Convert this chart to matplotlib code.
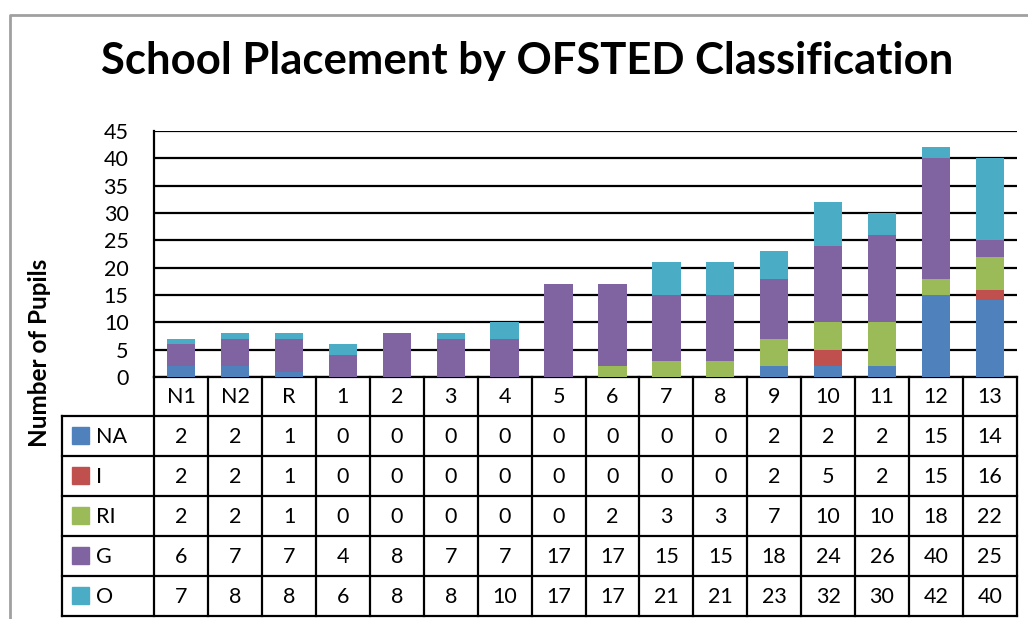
import matplotlib
matplotlib.use("Agg")
import matplotlib.pyplot as plt
import matplotlib.transforms as mtransforms
from matplotlib.patches import Rectangle

plt.rcParams['font.family'] = ['Lato', 'DejaVu Sans']

categories = ['N1', 'N2', 'R', '1', '2', '3', '4', '5', '6', '7', '8', '9', '10', '11', '12', '13']
series_names = ['NA', 'I', 'RI', 'G', 'O']
na = [2, 2, 1, 0, 0, 0, 0, 0, 0, 0, 0, 2, 2, 2, 15, 14]
i_ = [2, 2, 1, 0, 0, 0, 0, 0, 0, 0, 0, 2, 5, 2, 15, 16]
ri = [2, 2, 1, 0, 0, 0, 0, 0, 2, 3, 3, 7, 10, 10, 18, 22]
g = [6, 7, 7, 4, 8, 7, 7, 17, 17, 15, 15, 18, 24, 26, 40, 25]
o = [7, 8, 8, 6, 8, 8, 10, 17, 17, 21, 21, 23, 32, 30, 42, 40]
series = [na, i_, ri, g, o]
colors = ['#4F81BD', '#C0504D', '#9BBB59', '#8064A2', '#4BACC6']

W, H = 1028, 619
fig = plt.figure(figsize=(W / 100, H / 100), dpi=100)

# pixel layout of the plot area
px_left, px_right = 154.3, 1016.7
px_top, px_bottom = 131.0, 377.0
ax = fig.add_axes([px_left / W, 1 - px_bottom / H,
                   (px_right - px_left) / W, (px_bottom - px_top) / H])

# overlay in pixel coords for frame and table
tab = fig.add_axes([0, 0, 1, 1], zorder=-1)
tab.set_xlim(0, W)
tab.set_ylim(H, 0)
tab.axis('off')

x = range(len(categories))
# overlapping bars, tallest series at the back
for vals, col in reversed(list(zip(series, colors))):
    ax.bar(x, vals, width=0.526, color=col, zorder=3)

ax.set_xlim(-0.5, len(categories) - 0.5)
ax.set_ylim(0, 45)
ax.set_yticks(range(0, 46, 5))
ax.set_xticks([])
ax.tick_params(axis='y', length=0, pad=18.5, labelsize=15.5)
ax.grid(axis='y', color='black', linewidth=1.6, zorder=1)
for s in ['top', 'right']:
    ax.spines[s].set_visible(False)
ax.spines['left'].set_linewidth(1.6)
ax.spines['bottom'].set_linewidth(1.6)
ax.set_facecolor('none')

fig.text(40 / W, 1 - 353 / H, 'Number of Pupils', rotation=90,
         ha='center', va='center', fontsize=17.5, fontweight='bold')

fig.text(527 / W, 1 - 61 / H, 'School Placement by OFSTED Classification',
         ha='center', va='center', fontsize=31.4, fontweight='bold')

# outer chart frame (gray)
tab.plot([10, 10, W + 5], [H + 5, 15, 15], color='#A0A0A0', linewidth=2, clip_on=False)

# data table
lw = 1.6
row_h = 40.0
hdr_bottom = 415.7
tbl_left = 61.7
rows_y = [hdr_bottom + k * row_h for k in range(len(series_names) + 1)]
tbl_bottom = rows_y[-1]

blend = mtransforms.blended_transform_factory(ax.transData, tab.transData)

for y in rows_y:
    tab.plot([tbl_left, px_right], [y, y], color='black', linewidth=lw)
tab.plot([tbl_left, tbl_left], [hdr_bottom, tbl_bottom], color='black', linewidth=lw)
tab.plot([px_left, px_left], [px_bottom, tbl_bottom], color='black', linewidth=lw)
for k in range(len(categories)):
    tab.plot([k + 0.5, k + 0.5], [px_bottom, tbl_bottom], color='black',
             linewidth=lw, transform=blend)

for k, cat in enumerate(categories):
    tab.text(k, (px_bottom + hdr_bottom) / 2 + 1, cat, ha='center', va='center',
             fontsize=15.5, transform=blend)

for r, (name, vals, col) in enumerate(zip(series_names, series, colors)):
    yc = rows_y[r] + row_h / 2
    tab.add_patch(Rectangle((72, yc - 8.5), 17, 17, color=col))
    tab.text(96, yc + 1, name, ha='left', va='center', fontsize=15.5)
    for k, v in enumerate(vals):
        tab.text(k, yc + 1, str(v), ha='center', va='center', fontsize=15.5, transform=blend)

fig.savefig('out.png', dpi=100)
